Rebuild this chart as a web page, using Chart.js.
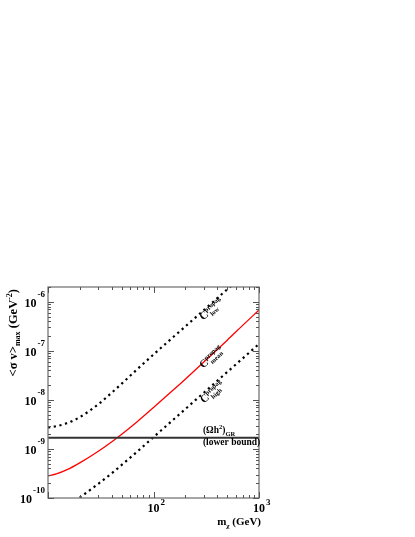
<!DOCTYPE html>
<html>
<head>
<meta charset="utf-8">
<script src="https://cdn.jsdelivr.net/npm/chart.js@4.4.1/dist/chart.umd.min.js"></script>
<style>
  html, body { margin: 0; padding: 0; background: #fff; }
  canvas { display: block; }
</style>
</head>
<body>
<canvas id="chart" width="415" height="537"></canvas>
<script>
/* ================================
   Data
================================ */
const massMean  = [10, 12, 15, 20, 30, 40, 50, 70, 100, 150, 200, 300, 500, 700, 1000];
const sigmaMean = [2.82e-10, 3.09e-10, 3.73e-10, 5.2e-10, 9.0e-10, 1.39e-9, 2.0e-9, 3.6e-9,
                   7.0e-9, 1.51e-8, 2.64e-8, 5.94e-8, 1.65e-7, 3.3e-7, 6.8e-7];

const massLow  = [10, 12, 15, 20, 30, 40, 50, 70, 100, 150, 200, 300, 500, 600];
const sigmaLow = [2.75e-9, 2.91e-9, 3.33e-9, 4.44e-9, 8.15e-9, 1.39e-8, 2.14e-8, 4.2e-8,
                  8.4e-8, 1.82e-7, 3.13e-7, 6.76e-7, 1.79e-6, 2.5e-6];

const massHigh  = [18, 20, 30, 40, 50, 70, 100, 150, 200, 300, 500, 700, 1000];
const sigmaHigh = [8.7e-11, 1.02e-10, 1.95e-10, 3.16e-10, 4.73e-10, 8.8e-10, 1.74e-9,
                   3.75e-9, 6.49e-9, 1.4e-8, 3.7e-8, 7.0e-8, 1.38e-7];

const boundMass  = [10, 1000];
const boundSigma = 1.7e-9;

const xTickExp = [2, 3];
const yTickExp = [-10, -9, -8, -7, -6];

const X_MIN = 10, X_MAX = 1000;
const Y_MIN = 1e-10, Y_MAX = 2e-6;

const FONT = '"Liberation Serif", "DejaVu Serif", serif';

/* ================================
   Text helper (sub/superscripts)
================================ */
function drawRuns(ctx, parts, x, y, align) {
  let w = 0;
  parts.forEach(p => {
    ctx.font = `bold ${p.size}px ${FONT}`;
    p.w = ctx.measureText(p.t).width;
    if (!p.stack) w += p.w;
  });
  let cx = align === 'right' ? x - w : align === 'center' ? x - w / 2 : x;
  ctx.textAlign = 'left';
  ctx.textBaseline = 'alphabetic';
  let last = cx;
  parts.forEach(p => {
    ctx.font = `bold ${p.size}px ${FONT}`;
    const px = p.stack ? last + (p.shift || 0) : cx;
    ctx.fillText(p.t, px, y + (p.dy || 0));
    if (!p.stack) { last = cx; cx += p.w; }
  });
}

function curveLabel(ctx, x, y, sub) {
  ctx.save();
  ctx.translate(x, y);
  ctx.rotate(-43 * Math.PI / 180);
  drawRuns(ctx, [
    { t: 'C', size: 11 },
    { t: 'propag', size: 6.5, dy: -4 },
    { t: sub, size: 6.5, dy: 3, stack: true, shift: 2 }
  ], 0, 0, 'left');
  ctx.restore();
}

/* ================================
   Frame, ticks, labels
================================ */
const decor = {
  id: 'decor',
  afterDraw(chart) {
    const { ctx, chartArea: a, scales: { x, y } } = chart;
    ctx.save();
    ctx.fillStyle = '#000';

    // frame
    ctx.strokeStyle = '#777';
    ctx.lineWidth = 1.3;
    ctx.strokeRect(a.left, a.top, a.right - a.left, a.bottom - a.top);

    // ticks
    ctx.strokeStyle = '#555';
    ctx.lineWidth = 1;
    ctx.beginPath();
    for (let d = 1; d <= 3; d++) {
      for (let k = 1; k <= 9; k++) {
        const v = k * Math.pow(10, d);
        if (v < X_MIN || v > X_MAX) continue;
        const px = Math.round(x.getPixelForValue(v)) + 0.5;
        const len = k === 1 ? 6 : 3;
        ctx.moveTo(px, a.bottom); ctx.lineTo(px, a.bottom - len);
        ctx.moveTo(px, a.top); ctx.lineTo(px, a.top + len);
      }
    }
    for (let d = -10; d <= -6; d++) {
      for (let k = 1; k <= 9; k++) {
        const v = k * Math.pow(10, d);
        if (v < Y_MIN || v > Y_MAX) continue;
        const py = Math.round(y.getPixelForValue(v)) + 0.5;
        const len = k === 1 ? 6 : 3;
        ctx.moveTo(a.left, py); ctx.lineTo(a.left + len, py);
        ctx.moveTo(a.right, py); ctx.lineTo(a.right - len, py);
      }
    }
    ctx.stroke();

    // y tick labels
    yTickExp.forEach(e => {
      const py = y.getPixelForValue(Math.pow(10, e));
      ctx.font = `bold 9px ${FONT}`;
      const ew = ctx.measureText(String(e)).width;
      ctx.textAlign = 'right';
      ctx.fillText(String(e), a.left - 3, py - 5);
      ctx.font = `bold 12px ${FONT}`;
      ctx.fillText('10', a.left - 4 - ew, py + 5);
    });

    // x tick labels
    xTickExp.forEach(e => {
      const px = x.getPixelForValue(Math.pow(10, e));
      ctx.font = `bold 12px ${FONT}`;
      ctx.textAlign = 'center';
      ctx.fillText('10', px, a.bottom + 14);
      ctx.font = `bold 9px ${FONT}`;
      ctx.textAlign = 'left';
      ctx.fillText(String(e), px + 7, a.bottom + 7);
    });

    // x title
    drawRuns(ctx, [
      { t: 'm', size: 11 },
      { t: 'χ', size: 7, dy: 3 },
      { t: ' (GeV)', size: 11 }
    ], a.right + 2, a.bottom + 27, 'right');

    // y title
    ctx.save();
    ctx.translate(17, a.top + 2);
    ctx.rotate(-Math.PI / 2);
    drawRuns(ctx, [
      { t: '<σ v>', size: 12.5 },
      { t: 'max', size: 8, dy: 3 },
      { t: ' (GeV', size: 12.5 },
      { t: '-2', size: 8, dy: -5 },
      { t: ')', size: 12.5 }
    ], 0, 0, 'right');
    ctx.restore();

    // curve labels
    curveLabel(ctx, x.getPixelForValue(296), y.getPixelForValue(4.1e-7), 'low');
    curveLabel(ctx, x.getPixelForValue(296), y.getPixelForValue(4.3e-8), 'mean');
    curveLabel(ctx, x.getPixelForValue(301), y.getPixelForValue(8.3e-9), 'high');

    // bound label
    const bx = x.getPixelForValue(294);
    drawRuns(ctx, [
      { t: '(Ωh', size: 9.5 },
      { t: '2', size: 6.5, dy: -4 },
      { t: ')', size: 9.5 },
      { t: 'GR', size: 6.5, dy: 3 }
    ], bx, y.getPixelForValue(2.1e-9), 'left');
    drawRuns(ctx, [{ t: '(lower bound)', size: 9.5 }], bx, y.getPixelForValue(1.2e-9), 'left');

    ctx.restore();
  }
};

/* ================================
   Chart
================================ */
const pts = (xs, ys) => xs.map((m, i) => ({ x: m, y: ys[i] }));

new Chart(document.getElementById('chart'), {
  type: 'line',
  data: {
    datasets: [
      {
        data: pts(boundMass, boundMass.map(() => boundSigma)),
        borderColor: '#333',
        borderWidth: 2,
        pointRadius: 0
      },
      {
        data: pts(massLow, sigmaLow),
        borderColor: '#000',
        borderWidth: 2.2,
        borderDash: [2.2, 3.6],
        borderCapStyle: 'butt',
        pointRadius: 0,
        cubicInterpolationMode: 'monotone'
      },
      {
        data: pts(massMean, sigmaMean),
        borderColor: '#ff0000',
        borderWidth: 1.3,
        pointRadius: 0,
        cubicInterpolationMode: 'monotone'
      },
      {
        data: pts(massHigh, sigmaHigh),
        borderColor: '#000',
        borderWidth: 2.2,
        borderDash: [2.2, 3.6],
        borderCapStyle: 'butt',
        pointRadius: 0,
        cubicInterpolationMode: 'monotone'
      }
    ]
  },
  options: {
    responsive: false,
    animation: false,
    layout: { padding: { left: 48, top: 287, right: 156, bottom: 39 } },
    plugins: { legend: { display: false }, tooltip: { enabled: false } },
    scales: {
      x: { type: 'logarithmic', min: X_MIN, max: X_MAX, display: false },
      y: { type: 'logarithmic', min: Y_MIN, max: Y_MAX, display: false }
    }
  },
  plugins: [decor]
});
</script>
</body>
</html>
